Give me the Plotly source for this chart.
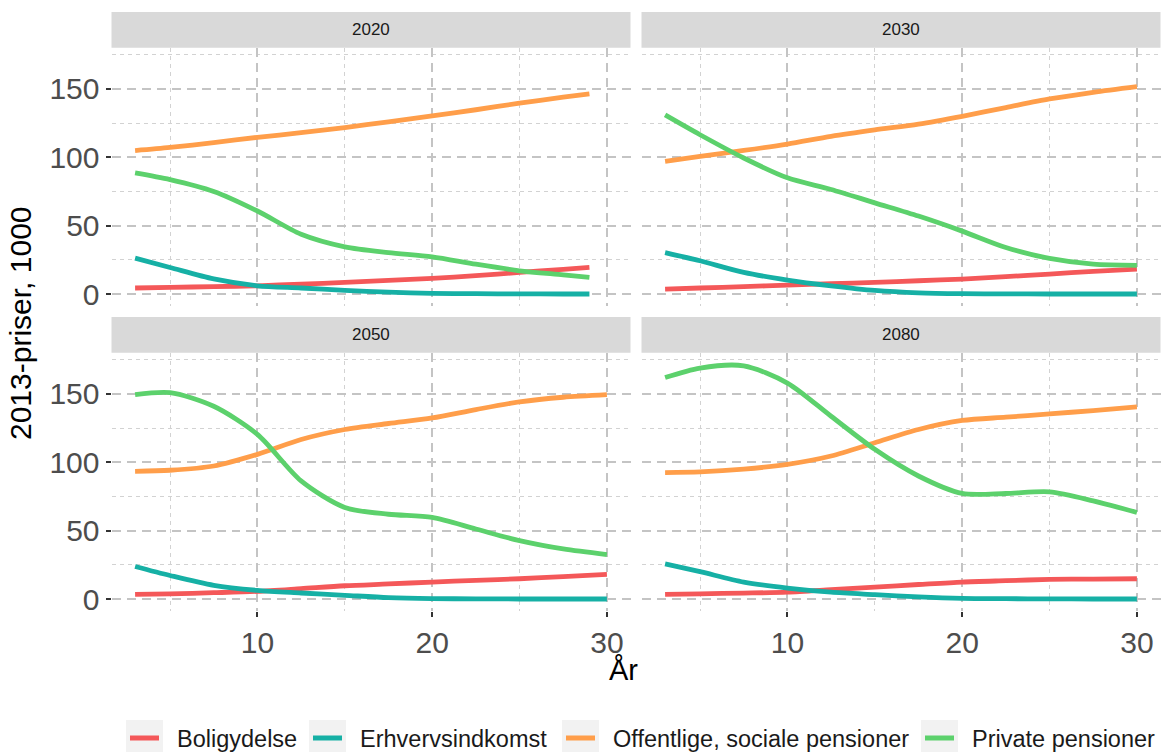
import plotly.graph_objects as go

# Alder (år) for hver årgang
ar_2020 = [3, 5, 7.5, 10, 12.5, 15, 17.5, 20, 22.5, 25, 27.5, 29]
ar_ovrige = [3, 5, 7.5, 10, 12.5, 15, 17.5, 20, 22.5, 25, 27.5, 30]

# 2013-priser, 1000 kr.
boligydelse_2020 = [4.4, 4.8, 5.4, 6.0, 7.2, 8.5, 9.9, 11.4, 13.4, 15.8, 18.0, 19.4]
erhverv_2020 = [26.2, 19.4, 11.0, 6.0, 4.4, 2.6, 1.3, 0.5, 0.2, 0.1, 0.0, 0.0]
offentlige_2020 = [104.9, 107.2, 110.8, 114.6, 118.0, 121.8, 126.0, 130.3, 134.8, 139.6, 144.0, 146.5]
private_2020 = [88.6, 83.7, 75.0, 60.7, 43.7, 34.5, 30.3, 27.2, 21.8, 17.0, 14.0, 12.1]

boligydelse_2030 = [3.6, 4.4, 5.4, 6.5, 7.5, 8.5, 9.7, 10.9, 12.7, 14.6, 16.5, 18.2]
erhverv_2030 = [30.3, 24.3, 15.8, 10.2, 6.0, 2.6, 0.8, 0.2, 0.1, 0.0, 0.0, 0.0]
offentlige_2030 = [97.0, 100.7, 105.0, 109.7, 115.3, 120.0, 124.3, 130.0, 136.4, 142.7, 147.6, 151.7]
private_2030 = [131.0, 116.5, 99.5, 85.0, 76.5, 66.7, 57.0, 46.0, 34.0, 26.0, 21.8, 21.0]

boligydelse_2050 = [3.4, 3.8, 4.6, 5.6, 7.6, 9.7, 11.0, 12.4, 13.6, 14.8, 16.4, 18.0]
erhverv_2050 = [23.8, 17.2, 10.0, 6.3, 4.4, 2.7, 1.0, 0.3, 0.1, 0.0, 0.0, 0.0]
offentlige_2050 = [93.4, 94.2, 97.3, 105.8, 116.7, 124.0, 128.4, 132.5, 138.6, 144.2, 147.6, 149.5]
private_2050 = [149.5, 151.0, 141.0, 120.4, 86.4, 67.0, 62.0, 59.7, 51.2, 42.7, 36.6, 32.5]

boligydelse_2080 = [3.4, 3.8, 4.3, 5.0, 6.8, 8.7, 10.6, 12.4, 13.4, 14.3, 14.6, 14.8]
erhverv_2080 = [25.7, 20.0, 12.4, 8.0, 5.0, 3.2, 1.5, 0.4, 0.2, 0.1, 0.0, 0.0]
offentlige_2080 = [92.5, 93.0, 95.0, 98.5, 104.6, 114.3, 124.0, 130.6, 133.0, 135.4, 137.9, 140.5]
private_2080 = [162.0, 169.0, 170.6, 158.0, 133.7, 109.5, 90.0, 77.2, 77.2, 78.4, 71.8, 63.3]

serier = ["Boligydelse", "Erhvervsindkomst", "Offentlige, sociale pensioner", "Private pensioner"]
farver = ["#F45859", "#16B0A5", "#FF9E4A", "#5CD16C"]
aargange = ["2020", "2030", "2050", "2080"]
x_ticks = [10, 20, 30]
y_ticks = [0, 50, 100, 150]

paneler = [
    ("2020", ar_2020, [boligydelse_2020, erhverv_2020, offentlige_2020, private_2020]),
    ("2030", ar_ovrige, [boligydelse_2030, erhverv_2030, offentlige_2030, private_2030]),
    ("2050", ar_ovrige, [boligydelse_2050, erhverv_2050, offentlige_2050, private_2050]),
    ("2080", ar_ovrige, [boligydelse_2080, erhverv_2080, offentlige_2080, private_2080]),
]

W, H = 1161, 752


def px(x):
    return x / W


def py(y):
    return 1 - y / H


# panelgeometri i pixels
kol = [(111.5, 630.5), (641.5, 1160.5)]
raek = [(47.7, 305.75), (352.7, 610.75)]
strimmel_h = 35.7

fig = go.Figure()

for i, (navn, alder, vaerdier) in enumerate(paneler):
    ax = "" if i == 0 else str(i + 1)
    for s, farve, y in zip(serier, farver, vaerdier):
        fig.add_trace(go.Scatter(
            x=alder, y=y, mode="lines", name=s,
            line=dict(color=farve, width=4.8, shape="spline", smoothing=0.8),
            xaxis="x" + ax, yaxis="y" + ax, showlegend=False,
            hoverinfo="skip",
        ))

major_grid = dict(gridcolor="#c4c4c4", gridwidth=1.6, griddash="9px,6px")
tick_font = dict(family="Liberation Sans, Arial", size=30, color="#4d4d4d")

layout = dict(
    width=W, height=H,
    margin=dict(l=0, r=0, t=0, b=0),
    paper_bgcolor="white", plot_bgcolor="white",
    showlegend=False,
    template="none",
)

for i in range(4):
    r, c = divmod(i, 2)
    ax = "" if i == 0 else str(i + 1)
    x0, x1 = kol[c]
    y0, y1 = raek[r]
    bund = r == 1
    venstre = c == 0
    layout["xaxis" + ax] = dict(
        domain=[px(x0), px(x1)], anchor="y" + ax, range=[1.65, 31.35],
        tickvals=x_ticks, showticklabels=bund, ticks="outside" if bund else "",
        ticklen=5, tickwidth=1.6, tickcolor="#333333", tickfont=tick_font,
        showline=False, zeroline=False, automargin=False, showgrid=True,
        minor=dict(tickvals=[5, 15, 25], showgrid=True, gridcolor="#d2d2d2",
                   gridwidth=1.1, griddash="4px,4px", ticks=""),
        **major_grid,
    )
    layout["yaxis" + ax] = dict(
        domain=[py(y1), py(y0)], anchor="x" + ax, range=[-8.6, 180.2],
        tickvals=y_ticks, showticklabels=venstre, ticks="outside" if venstre else "",
        ticklen=5, tickwidth=1.6, tickcolor="#333333", tickfont=tick_font,
        showline=False, zeroline=False, automargin=False, showgrid=True,
        minor=dict(tickvals=[25, 75, 125, 175], showgrid=True, gridcolor="#d2d2d2",
                   gridwidth=1.1, griddash="4px,4px", ticks=""),
        **major_grid,
    )

fig.update_layout(**layout)

shapes = []
annotations = []

# facetstrimler
for i, navn in enumerate(aargange):
    r, c = divmod(i, 2)
    x0, x1 = kol[c]
    y_top = raek[r][0]
    shapes.append(dict(type="rect", xref="paper", yref="paper",
                       x0=px(x0), x1=px(x1), y0=py(y_top), y1=py(y_top - strimmel_h),
                       fillcolor="#d9d9d9", line=dict(width=0), layer="below"))
    annotations.append(dict(text=navn, xref="paper", yref="paper",
                            x=px((x0 + x1) / 2), y=py(y_top - strimmel_h / 2),
                            showarrow=False, xanchor="center", yanchor="middle",
                            font=dict(family="Liberation Sans, Arial", size=17, color="#1a1a1a")))

# aksetitler
annotations.append(dict(text="År", xref="paper", yref="paper", x=px(623), y=py(670),
                        showarrow=False, xanchor="center", yanchor="middle",
                        font=dict(family="Liberation Sans, Arial", size=29, color="black")))
annotations.append(dict(text="2013-priser, 1000", xref="paper", yref="paper", x=px(20), y=py(323),
                        showarrow=False, xanchor="center", yanchor="middle", textangle=-90,
                        font=dict(family="Liberation Sans, Arial", size=30, color="black")))

# forklaring
noegle_x = [126, 309, 562, 921]
tekst_x = [175, 358, 611, 970]
for s, farve, kx, tx in zip(serier, farver, noegle_x, tekst_x):
    shapes.append(dict(type="rect", xref="paper", yref="paper",
                       x0=px(kx), x1=px(kx + 37), y0=py(756), y1=py(720),
                       fillcolor="#f2f2f2", line=dict(width=0)))
    shapes.append(dict(type="line", xref="paper", yref="paper",
                       x0=px(kx + 4), x1=px(kx + 33), y0=py(738), y1=py(738),
                       line=dict(color=farve, width=5)))
    annotations.append(dict(text=s, xref="paper", yref="paper", x=px(tx), y=py(739),
                            showarrow=False, xanchor="left", yanchor="middle",
                            font=dict(family="Liberation Sans, Arial", size=23.5, color="#1a1a1a")))

fig.update_layout(shapes=shapes, annotations=annotations)

fig.write_html("out.html")
